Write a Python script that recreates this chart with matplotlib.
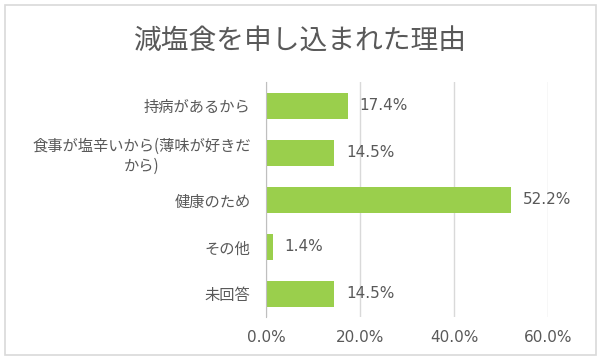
import matplotlib
matplotlib.use("Agg")
import matplotlib.pyplot as plt
from matplotlib.patches import Rectangle

plt.rcParams['font.family'] = ['Noto Sans CJK JP', 'DejaVu Sans']

# data
title = "減塩食を申し込まれた理由"
categories = ["持病があるから",
              "食事が塩辛いから(薄味が好きだ\nから)",
              "健康のため",
              "その他",
              "未回答"]
values = [17.4, 14.5, 52.2, 1.4, 14.5]
xticks = [0, 20, 40, 60]

text_color = "#595959"
bar_color = "#9ACF4C"

fig = plt.figure(figsize=(6.0, 3.61), dpi=100)
ax = fig.add_axes([0.4433, 0.1205, 0.47, 0.651])

ypos = list(range(len(categories)))
ax.barh(ypos, values, height=0.55, color=bar_color, zorder=3)
ax.set_ylim(len(categories) - 0.5, -0.5)
ax.set_xlim(0, 60)

for y, v in zip(ypos, values):
    ax.text(v + 2.5, y, f"{v:.1f}%", va="center", ha="left", family="DejaVu Sans",
            fontsize=11, color=text_color, clip_on=False)

ax.set_yticks(ypos)
ax.set_yticklabels(categories, fontsize=11, color=text_color, ha="right",
                   linespacing=1.25)
for lbl in ax.get_yticklabels():
    lbl.set_multialignment("center")
ax.set_xticks(xticks)
ax.set_xticklabels([f"{t:.1f}%" for t in xticks], fontsize=11,
                   color=text_color, family="DejaVu Sans")
ax.tick_params(axis="both", length=0)
ax.tick_params(axis="y", pad=11)
ax.tick_params(axis="x", pad=9)

ax.grid(axis="x", color="#D9D9D9", linewidth=1, zorder=0)
for s in ["top", "right", "bottom"]:
    ax.spines[s].set_visible(False)
ax.spines["left"].set_color("#BFBFBF")
ax.spines["left"].set_zorder(4)

fig.text(0.5, 0.885, title, ha="center", va="center", fontsize=20, color=text_color)

fig.patches.append(Rectangle((5 / 600, 6 / 361), 591 / 600, 350 / 361,
                             transform=fig.transFigure, fill=False,
                             edgecolor="#D9D9D9", linewidth=1.2))

fig.savefig("out.png", dpi=100)
